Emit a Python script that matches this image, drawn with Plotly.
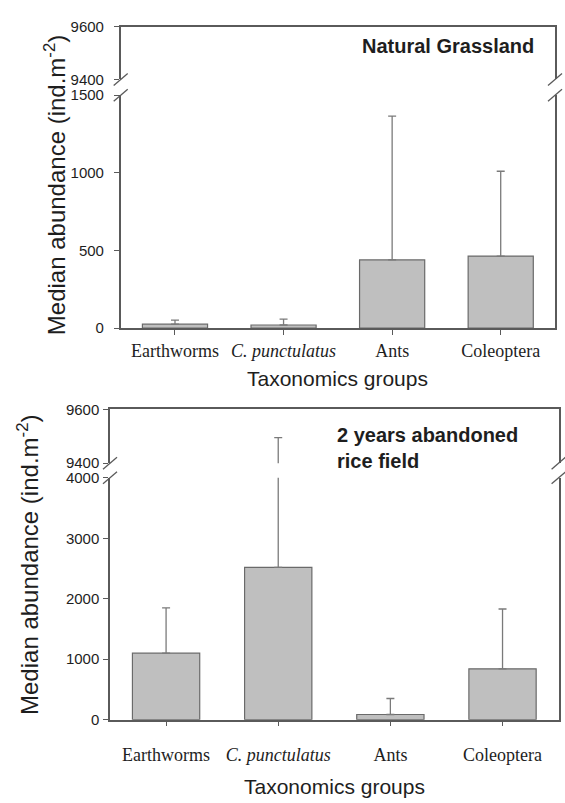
import plotly.graph_objects as go

# ---------------- data ----------------
categories = ["Earthworms", "C. punctulatus", "Ants", "Coleoptera"]
tick_labels = ["Earthworms", "<i>C. punctulatus</i>", "Ants", "Coleoptera"]

grass_median = [25, 20, 439, 464]
grass_upper = [52, 58, 1365, 1010]

rice_median = [1100, 2520, 85, 840]
rice_upper = [1850, 9495, 350, 1830]

grass_title = "Natural Grassland"
rice_title = "2 years abandoned<br>rice field"
y_title = "Median abundance (ind.m<sup>-2</sup>)"
x_title = "Taxonomics groups"

# ---------------- layout helpers ----------------
W, H = 565, 803
AX = "#5a5a5a"
TXT = "#1e1e1e"
BAR_FILL = "#bfbfbf"
BAR_LINE = "#6a6a6a"
ERR = "#7a7a7a"


def fx(p):
    return p / W


def fy(p):
    return 1 - p / H


panels = [
    dict(data=(grass_median, grass_upper), xpx=(120.7, 555), up=(18, 72), low=(88, 326),
         low_range=[0, 1500], low_dtick=500, xs=("x", "x2"), ys=("y", "y2"),
         ytitle_x=55, ytitle_y=180, xtitle_y=377, standoff_y=7, standoff_x=1),
    dict(data=(rice_median, rice_upper), xpx=(110, 558.6), up=(409, 464), low=(479, 726),
         low_range=[0, 4000], low_dtick=1000, xs=("x3", "x4"), ys=("y3", "y4"),
         ytitle_x=28, ytitle_y=568, xtitle_y=794, standoff_y=1, standoff_x=13),
]

fig = go.Figure()
layout = dict(
    width=W, height=H, margin=dict(l=0, r=0, t=0, b=0),
    paper_bgcolor="white", plot_bgcolor="white", showlegend=False,
)
shapes = []
annotations = []

for p in panels:
    med, upv = p["data"]
    err = [u - m for u, m in zip(upv, med)]
    xl, xu = p["xs"]
    yl, yu = p["ys"]
    for xa, ya in ((xl, yl), (xu, yu)):
        fig.add_trace(go.Bar(
            x=categories, y=med, width=0.6,
            marker=dict(color=BAR_FILL, line=dict(color=BAR_LINE, width=1.2)),
            error_y=dict(type="data", symmetric=False, array=err, arrayminus=[0] * len(err),
                         color=ERR, thickness=1.3, width=4),
            xaxis=xa, yaxis=ya, hoverinfo="skip",
        ))

    xdom = [fx(p["xpx"][0]), fx(p["xpx"][1])]
    low_dom = [fy(p["low"][1]), fy(p["low"][0])]
    up_dom = [fy(p["up"][1]), fy(p["up"][0])]
    xl_key = "xaxis" if xl == "x" else "xaxis" + xl[1:]
    xu_key = "xaxis" + xu[1:]
    yl_key = "yaxis" if yl == "y" else "yaxis" + yl[1:]
    yu_key = "yaxis" + yu[1:]

    layout[xl_key] = dict(
        domain=xdom, anchor=yl, type="category", categoryorder="array",
        categoryarray=categories, range=[-0.5, 3.5],
        tickvals=categories, ticktext=tick_labels,
        showline=True, linecolor=AX, linewidth=1.5, mirror=False,
        ticks="outside", ticklen=5, tickcolor=AX, tickwidth=1.2,
        ticklabelstandoff=p["standoff_x"],
        tickfont=dict(family="Liberation Serif, Times New Roman, serif", size=18, color=TXT),
        showgrid=False, zeroline=False, fixedrange=True,
    )
    layout[xu_key] = dict(
        domain=xdom, anchor=yu, matches=xl, type="category", categoryorder="array",
        categoryarray=categories, range=[-0.5, 3.5], side="top",
        showline=True, linecolor=AX, linewidth=1.5, ticks="", showticklabels=False,
        showgrid=False, zeroline=False, fixedrange=True,
    )
    layout[yl_key] = dict(
        domain=low_dom, anchor=xl, range=p["low_range"], dtick=p["low_dtick"], tick0=0,
        showline=True, linecolor=AX, linewidth=1.5, mirror=True,
        ticks="outside", ticklen=5, tickcolor=AX, tickwidth=1.2,
        ticklabelstandoff=p["standoff_y"],
        tickfont=dict(family="Liberation Sans, Arial, sans-serif", size=15, color=TXT),
        showgrid=False, zeroline=False, fixedrange=True,
    )
    layout[yu_key] = dict(
        domain=up_dom, anchor=xu, range=[9400, 9600], tickvals=[9400, 9600],
        showline=True, linecolor=AX, linewidth=1.5, mirror=True,
        ticks="outside", ticklen=5, tickcolor=AX, tickwidth=1.2,
        ticklabelstandoff=p["standoff_y"],
        tickfont=dict(family="Liberation Sans, Arial, sans-serif", size=15, color=TXT),
        showgrid=False, zeroline=False, fixedrange=True,
    )

    # axis-break marks on left and right axes
    for xa in xdom:
        for ya in (up_dom[0], low_dom[1]):
            shapes.append(dict(
                type="line", xref="paper", yref="paper",
                xsizemode="pixel", ysizemode="pixel", xanchor=xa, yanchor=ya,
                x0=-7, x1=7, y0=-6, y1=6, line=dict(color=AX, width=1.3),
            ))

    annotations.append(dict(
        text=y_title, textangle=-90, xref="paper", yref="paper",
        x=fx(p["ytitle_x"]), y=fy(p["ytitle_y"]), xanchor="center", yanchor="middle",
        showarrow=False, font=dict(family="Liberation Sans, Arial, sans-serif", size=24, color=TXT),
    ))
    annotations.append(dict(
        text=x_title, xref="paper", yref="paper",
        x=(xdom[0] + xdom[1]) / 2, y=fy(p["xtitle_y"]), xanchor="center", yanchor="middle",
        showarrow=False, font=dict(family="Liberation Sans, Arial, sans-serif", size=21, color=TXT),
    ))

annotations.append(dict(
    text="<b>" + grass_title + "</b>", xref="paper", yref="paper",
    x=fx(536), y=fy(38), xanchor="right", yanchor="middle", showarrow=False,
    font=dict(family="Liberation Sans, Arial, sans-serif", size=20, color=TXT),
))
annotations.append(dict(
    text="<b>" + rice_title + "</b>", xref="paper", yref="paper", align="left",
    x=fx(335), y=fy(448.5), xanchor="left", yanchor="middle", showarrow=False,
    font=dict(family="Liberation Sans, Arial, sans-serif", size=20, color=TXT),
))

layout["shapes"] = shapes
layout["annotations"] = annotations
fig.update_layout(**layout)
fig.write_html("out.html")
